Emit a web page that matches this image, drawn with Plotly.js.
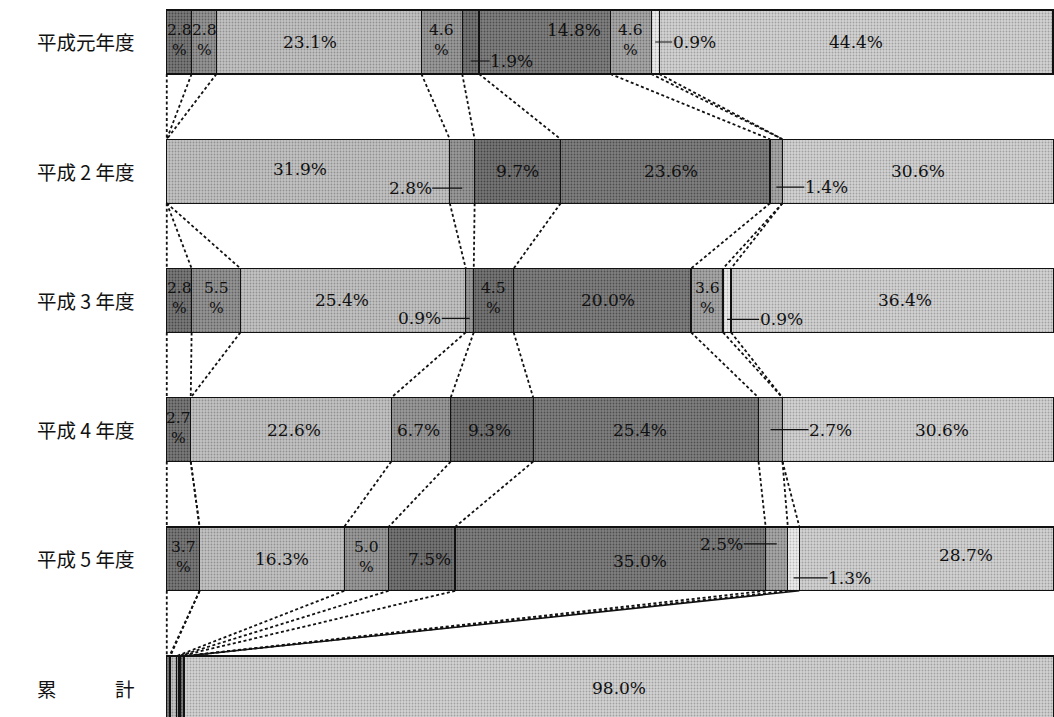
<!DOCTYPE html>
<html><head><meta charset="utf-8">
<script src="https://cdn.plot.ly/plotly-3.0.1.min.js"></script>
<style>html,body{margin:0;padding:0;background:#fff}#chart{width:1054px;height:717px}</style>
</head><body><div id="chart"></div>
<script>
// ---- data ----
const rowLabels = ['平成元年度', '平成 2 年度', '平成 3 年度', '平成 4 年度', '平成 5 年度', '累　　　計'];
const s1 = [2.8, 0, 2.8, 2.7, 3.7, 0.3];
const s2 = [2.8, 0, 5.5, 0, 0, 0.1];
const s3 = [23.1, 31.9, 25.4, 22.6, 16.3, 0.7];
const s4 = [4.6, 2.8, 0.9, 6.7, 5.0, 0.2];
const s5 = [1.9, 9.7, 4.5, 9.3, 7.5, 0.2];
const s6 = [14.8, 23.6, 20.0, 25.4, 35.0, 0.4];
const s7 = [4.6, 1.4, 3.6, 2.7, 2.5, 0.1];
const s8 = [0.9, 0, 0.9, 0, 1.3, 0.0];
const s9 = [44.4, 30.6, 36.4, 30.6, 28.7, 98.0];
const series = [s1, s2, s3, s4, s5, s6, s7, s8, s9];

// ---- styles ----
const colors = ['#707070', '#8b8b8b', '#b9b9b9', '#909090', '#6c6c6c', '#767676', '#9d9d9d', '#e2e2e2', '#c9c9c9'];
// label style per 'row-cat': [mode, dxPx, dyPx, leaderPx]
const labelStyle = {
  '0-0': ['stack', 0, 0], '0-1': ['stack', 0, 0], '0-2': ['in', -9, 0], '0-3': ['stack', 0, 0],
  '0-4': ['right', 0, 19, 19], '0-5': ['in', 29, -12], '0-6': ['stack', 0, 0], '0-7': ['right', 0, 0, 17], '0-8': ['in', 0, 0],
  '1-2': ['in', -8, -2], '1-3': ['left', 0, 17, 30], '1-4': ['in', 0, 0], '1-5': ['in', 6, 0], '1-6': ['right', 0, 16, 28], '1-8': ['in', 0, 0],
  '2-0': ['stack', 0, 0], '2-1': ['stack', 0, 0], '2-2': ['in', -11, 0], '2-3': ['left', 0, 18, 28], '2-4': ['stack', 0, 0],
  '2-5': ['in', 6, 0], '2-6': ['stack', 0, 0], '2-7': ['right', 0, 19, 32], '2-8': ['in', 12, 0],
  '3-0': ['stack', 0, 0], '3-2': ['in', 3, 0], '3-3': ['in', -2, 0], '3-4': ['in', -2, 0], '3-5': ['in', -6, 0],
  '3-6': ['right', 0, 0, 38], '3-8': ['in', 24, 0],
  '4-0': ['stack', 0, 0], '4-2': ['in', 10, 0], '4-3': ['stack', 0, 0], '4-4': ['in', 8, 0], '4-5': ['in', 30, 2],
  '4-6': ['left', 0, -15, 33], '4-7': ['right', 0, 19, 34], '4-8': ['in', 39, -4],
  '5-8': ['in', 0, 0]
};
const solidLink = { row: 4, k: 8 };

const W = 1054, H = 717;
const mL = 165;
const xr = [-0.2, 100];
const yr = [5.224, -0.325];
const barW = 0.495;
const pxPerY = H / (yr[0] - yr[1]);

const nRows = rowLabels.length;
const ys = rowLabels.map((_, i) => i);

function shade(hex, d) {
  const v = Math.max(0, Math.min(255, parseInt(hex.slice(1, 3), 16) + d));
  const h = v.toString(16).padStart(2, '0');
  return '#' + h + h + h;
}

const traces = series.map((vals, k) => ({
  type: 'bar', orientation: 'h', x: vals, y: ys, width: barW,
  marker: {
    color: shade(colors[k], 10),
    line: { color: '#111', width: 1.3 },
    pattern: { shape: '.', size: 3, solidity: 0.3, fgcolor: shade(colors[k], -40), bgcolor: shade(colors[k], 10), fillmode: 'replace' }
  },
  hoverinfo: 'skip', showlegend: false
}));

// cumulative boundaries
const bounds = ys.map(i => {
  const b = [0]; let c = 0;
  series.forEach(s => { c += s[i]; b.push(c); });
  return b;
});

// connectors
const cx = [], cy = [], sx = [], sy = [];
for (let i = 0; i < nRows - 1; i++) {
  for (let k = 0; k < series.length; k++) {
    const solid = (i === solidLink.row && k === solidLink.k);
    const tx = solid ? sx : cx;
    const ty = solid ? sy : cy;
    tx.push(bounds[i][k], bounds[i + 1][k], null);
    ty.push(i + barW / 2, i + 1 - barW / 2, null);
  }
}
traces.push({
  type: 'scatter', mode: 'lines', x: cx, y: cy,
  line: { color: '#111', width: 1.8, dash: '3px,2.5px' },
  hoverinfo: 'skip', showlegend: false
});
traces.push({
  type: 'scatter', mode: 'lines', x: sx, y: sy,
  line: { color: '#111', width: 1.6 },
  hoverinfo: 'skip', showlegend: false
});

const fontNum = { family: 'DejaVu Serif, Liberation Serif, serif', size: 17, color: '#111' };
const fontStack = { family: 'DejaVu Serif, Liberation Serif, serif', size: 15.5, color: '#111' };
const annotations = [];
ys.forEach(i => {
  series.forEach((s, k) => {
    const st = labelStyle[i + '-' + k];
    if (!st || !s[i]) return;
    const [mode, dx, dy, lead] = st;
    const mid = (bounds[i][k] + bounds[i][k + 1]) / 2;
    const yv = i + dy / pxPerY;
    const txt = s[i].toFixed(1);
    if (mode === 'in') {
      annotations.push({
        x: mid, y: yv, xref: 'x', yref: 'y', xshift: dx,
        text: txt + '%', showarrow: false, font: fontNum, xanchor: 'center', yanchor: 'middle'
      });
    } else if (mode === 'stack') {
      annotations.push({
        x: mid, y: yv, xref: 'x', yref: 'y', xshift: dx, yshift: 2,
        text: txt + '<br>%', showarrow: false, font: fontStack, xanchor: 'center', yanchor: 'middle'
      });
    } else {
      const half = 22;
      annotations.push({
        x: mid, y: yv, xref: 'x', yref: 'y', text: txt + '%',
        showarrow: true, arrowhead: 0, arrowwidth: 1.2, arrowcolor: '#111', standoff: 0,
        ax: (mode === 'right' ? 1 : -1) * (lead + half), ay: 0, axref: 'pixel', ayref: 'pixel',
        font: fontNum, borderpad: 0
      });
    }
  });
  annotations.push({
    x: (35 - mL) / (W - mL), y: i, xref: 'paper', yref: 'y', xanchor: 'left', yanchor: 'middle',
    text: rowLabels[i], showarrow: false,
    font: { family: 'Noto Sans CJK JP, sans-serif', size: 19.5, color: '#111' }
  });
});

const layout = {
  width: W, height: H, margin: { l: mL, r: 0, t: 0, b: 0, pad: 0 },
  paper_bgcolor: '#fff', plot_bgcolor: '#fff',
  barmode: 'stack', bargap: 0, showlegend: false, hovermode: false,
  xaxis: { range: xr, visible: false, fixedrange: true },
  yaxis: { range: yr, visible: false, fixedrange: true },
  annotations: annotations
};
Plotly.newPlot('chart', traces, layout, { staticPlot: true, displayModeBar: false });
</script>
</body></html>
